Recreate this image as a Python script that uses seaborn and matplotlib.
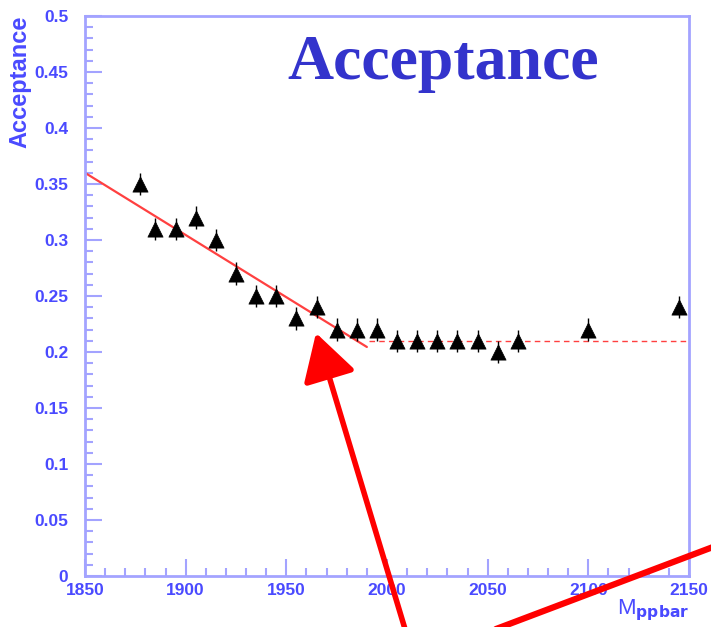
import matplotlib
matplotlib.use("Agg")
import matplotlib.pyplot as plt
from matplotlib.ticker import MultipleLocator, FuncFormatter
import seaborn as sns
import pandas as pd

# Data
mass = [1877.5, 1885, 1895, 1905, 1915, 1925, 1935, 1945, 1955, 1965, 1975,
        1985, 1995, 2005, 2015, 2025, 2035, 2045, 2055, 2065, 2100, 2145]
acceptance = [0.35, 0.31, 0.31, 0.32, 0.30, 0.27, 0.25, 0.25, 0.23, 0.24, 0.22,
              0.22, 0.22, 0.21, 0.21, 0.21, 0.21, 0.21, 0.20, 0.21, 0.22, 0.24]
acc_err = [0.01] * len(mass)

# fitted lines
slope_x = [1850, 1990]
slope_y = [0.36, 0.2045]
flat_x = [1991, 2150]
flat_y = [0.21, 0.21]

df = pd.DataFrame({"mass": mass, "acc": acceptance, "err": acc_err})

sns.set_style("white")
plt.rcParams["font.family"] = ["Liberation Sans", "DejaVu Sans"]
plt.rcParams["mathtext.default"] = "regular"

axis_col = "#a3a3ff"
label_col = "#4a4aff"

fig = plt.figure(figsize=(7.11, 6.27), dpi=100)
ax = fig.add_axes([85 / 711, 51 / 627, 604 / 711, 560 / 627])

# points with small error bars
ax.errorbar(df["mass"], df["acc"], yerr=df["err"], fmt="none", ecolor="black",
            elinewidth=1, zorder=3)
sns.scatterplot(data=df, x="mass", y="acc", marker="^", s=120, color="black",
                edgecolor="black", linewidth=0.5, ax=ax, zorder=4)

# fit lines
sns.lineplot(x=slope_x, y=slope_y, color="#ff4040", linewidth=1.6, ax=ax, zorder=2)
sns.lineplot(x=flat_x, y=flat_y, color="#ff4040", linewidth=1.0, ax=ax, zorder=2)
ax.lines[-1].set_dashes([4, 3])

ax.set_xlim(1850, 2150)
ax.set_ylim(0, 0.5)

ax.xaxis.set_major_locator(MultipleLocator(50))
ax.xaxis.set_minor_locator(MultipleLocator(10))
ax.yaxis.set_major_locator(MultipleLocator(0.05))
ax.yaxis.set_minor_locator(MultipleLocator(0.01))
ax.yaxis.set_major_formatter(FuncFormatter(lambda v, p: "0" if v == 0 else f"{v:g}"))

ax.tick_params(axis="both", which="both", direction="in", colors=axis_col,
               labelcolor=label_col, width=1.5)
ax.tick_params(axis="both", which="major", length=12, labelsize=12.5)
ax.tick_params(axis="both", which="minor", length=6)
ax.tick_params(axis="x", which="both", bottom=True, top=False, pad=5)
ax.tick_params(axis="y", which="both", left=True, right=False, pad=12)
for t in ax.get_xticklabels() + ax.get_yticklabels():
    t.set_fontweight("bold")

for sp in ax.spines.values():
    sp.set_color(axis_col)
    sp.set_linewidth(2)

ax.set_ylabel("Acceptance", loc="top", color=label_col, fontsize=17, fontweight="bold")
ax.yaxis.set_label_coords(-0.088, 1.0)
ax.set_xlabel(r"$M_{\mathbf{ppbar}}$", loc="right", color=label_col, fontsize=16)
ax.xaxis.set_label_coords(1.0, -0.038)

fig.text(443 / 711, 548 / 627, "Acceptance", ha="center", va="baseline",
         fontsize=46, fontweight="bold", color="#3333cc", family="Liberation Serif")

# red annotation arrow and line drawn over the figure
ax.annotate("", xy=(316, 294), xytext=(405, -2), xycoords="figure pixels",
            textcoords="figure pixels", annotation_clip=False,
            arrowprops=dict(arrowstyle="-|>,head_length=1.3,head_width=0.75",
                            lw=4, color="red", mutation_scale=22,
                            shrinkA=0, shrinkB=0))
ax.annotate("", xy=(713, 80), xytext=(496, -2), xycoords="figure pixels",
            textcoords="figure pixels", annotation_clip=False,
            arrowprops=dict(arrowstyle="-", lw=4.5, color="red",
                            shrinkA=0, shrinkB=0))

fig.savefig("out.png", dpi=100)
